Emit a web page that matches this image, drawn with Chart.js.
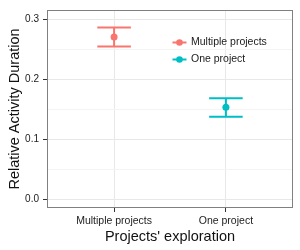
<!DOCTYPE html>
<html>
<head>
<meta charset="utf-8">
<script src="https://cdn.jsdelivr.net/npm/chart.js@4"></script>
<style>
  body { margin: 0; background: #fff; }
  canvas { display: block; }
</style>
</head>
<body>
<canvas id="chart" width="300" height="250"></canvas>
<script>
// Data
const categories = ['Multiple projects', 'One project'];
const means = [0.271, 0.154];
const lower = [0.255, 0.138];
const upper = [0.287, 0.169];
const yTicks = [0, 0.05, 0.1, 0.15, 0.2, 0.25, 0.3];
const colors = ['#F8766D', '#00BFC4'];

const FONT = 'Liberation Sans, Arial, sans-serif';
const isMajor = v => Math.round(v * 100) % 10 === 0;

// error bars drawn under the points
const errorBars = {
  id: 'errorBars',
  beforeDatasetsDraw(chart) {
    const { ctx, scales: { x, y } } = chart;
    ctx.save();
    ctx.lineWidth = 2;
    categories.forEach((c, i) => {
      const cx = x.getPixelForValue(i + 1);
      const x0 = x.getPixelForValue(i + 1 - 0.15);
      const x1 = x.getPixelForValue(i + 1 + 0.15);
      const yl = y.getPixelForValue(lower[i]);
      const yu = y.getPixelForValue(upper[i]);
      ctx.strokeStyle = colors[i];
      ctx.beginPath();
      ctx.moveTo(x0, yu); ctx.lineTo(x1, yu);
      ctx.moveTo(x0, yl); ctx.lineTo(x1, yl);
      ctx.moveTo(cx, yu); ctx.lineTo(cx, yl);
      ctx.stroke();
    });
    ctx.restore();
  }
};

// panel border + legend inside the panel
const panelExtras = {
  id: 'panelExtras',
  afterDraw(chart) {
    const { ctx, chartArea: a } = chart;
    ctx.save();
    ctx.strokeStyle = '#808080';
    ctx.lineWidth = 1;
    ctx.strokeRect(a.left + 0.5, a.top + 0.5, a.right - a.left - 1, a.bottom - a.top - 1);

    // legend
    const kx = 172.5, kw = 14;
    categories.forEach((c, i) => {
      const ly = 42.5 + i * 17;
      ctx.strokeStyle = colors[i];
      ctx.fillStyle = colors[i];
      ctx.lineWidth = 2;
      ctx.beginPath();
      ctx.moveTo(kx, ly); ctx.lineTo(kx + kw, ly);
      ctx.stroke();
      ctx.beginPath();
      ctx.arc(kx + kw / 2, ly, 3.3, 0, Math.PI * 2);
      ctx.fill();
      ctx.fillStyle = '#1a1a1a';
      ctx.font = '10.5px ' + FONT;
      ctx.textBaseline = 'middle';
      ctx.fillText(c, 191, ly);
    });
    ctx.restore();
  }
};

new Chart(document.getElementById('chart'), {
  type: 'scatter',
  data: {
    datasets: categories.map((c, i) => ({
      label: c,
      data: [{ x: i + 1, y: means[i] }],
      backgroundColor: colors[i],
      borderColor: colors[i],
      pointRadius: 3.5,
      pointBorderWidth: 0
    }))
  },
  options: {
    responsive: false,
    animation: false,
    devicePixelRatio: 1,
    layout: { padding: { top: 6, right: 7, left: 0, bottom: 0 } },
    plugins: { legend: { display: false }, tooltip: { enabled: false } },
    scales: {
      x: {
        type: 'linear',
        min: 0.4,
        max: 2.6,
        afterBuildTicks: s => { s.ticks = categories.map((c, i) => ({ value: i + 1 })); },
        afterFit: s => { s.height = 42; },
        border: { display: false },
        grid: { color: '#E8E8E8', tickColor: '#333333', tickLength: 4 },
        ticks: {
          autoSkip: false,
          maxRotation: 0,
          padding: 3,
          color: '#222222',
          font: { family: FONT, size: 10.5 },
          callback: v => categories[Math.round(v) - 1]
        },
        title: {
          display: true,
          text: "Projects' exploration",
          color: '#111111',
          font: { family: FONT, size: 14.5 },
          padding: { top: 0, bottom: 4 }
        }
      },
      y: {
        min: -0.014,
        max: 0.316,
        afterBuildTicks: s => { s.ticks = yTicks.map(v => ({ value: v })); },
        afterFit: s => { s.width = 47; },
        border: { display: false },
        grid: {
          color: c => isMajor(c.tick.value) ? '#E8E8E8' : '#F4F4F4',
          tickColor: c => isMajor(c.tick.value) ? '#333333' : 'rgba(0,0,0,0)',
          tickLength: 4
        },
        ticks: {
          autoSkip: false,
          padding: 4,
          color: '#1a1a1a',
          font: { family: FONT, size: 10 },
          callback: v => isMajor(v) ? v.toFixed(1) : ''
        },
        title: {
          display: true,
          text: 'Relative Activity Duration',
          color: '#111111',
          font: { family: FONT, size: 14.5 },
          padding: { top: 6, bottom: 0 }
        }
      }
    }
  },
  plugins: [errorBars, panelExtras]
});
</script>
</body>
</html>
